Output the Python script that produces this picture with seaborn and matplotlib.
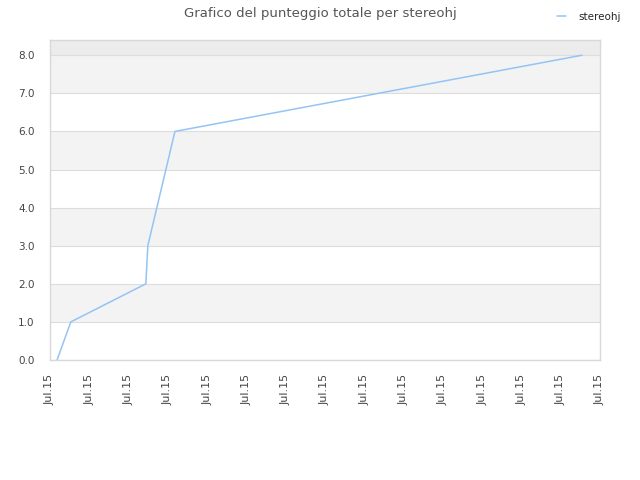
import matplotlib
matplotlib.use("Agg")
import matplotlib.pyplot as plt
import pandas as pd
import seaborn as sns

# data (x in tick units, 0..14)
x_pos = [0.18, 0.53, 2.44, 2.49, 3.18, 13.54]
punteggio = [0, 1, 2, 3, 6, 8]
tick_labels = ["Jul.15"] * 15

df = pd.DataFrame({"x": x_pos, "punteggio": punteggio})

sns.set_style("white")
plt.rcParams['font.family'] = ['DejaVu Sans']

fig = plt.figure(figsize=(6.4, 4.8), dpi=100)
ax = fig.add_axes([50/640, 120/480, 550/640, 320/480])

# alternating bands
for i in range(8):
    if i % 2 == 1:
        ax.axhspan(i, i + 1, color="#f3f3f3", zorder=0, lw=0)
ax.axhspan(8, 8.4, color="#ececec", zorder=0, lw=0)
for i in range(9):
    ax.axhline(i, color="#dddddd", lw=0.8, zorder=0.5)

sns.lineplot(data=df, x="x", y="punteggio", ax=ax, color="#94c4f4", lw=1.1,
             label="stereohj", zorder=2)

ax.set_xlim(0, 14)
ax.set_ylim(0, 8.4)
ax.set_xticks(range(15))
ax.set_xticklabels(tick_labels, rotation=90, fontsize=8, color="#444444")
ax.set_yticks(range(9))
ax.set_yticklabels([f"{v:.1f}" for v in range(9)], fontsize=7.5, color="#444444")
ax.tick_params(axis="x", length=0, pad=10)
ax.tick_params(axis="y", length=0, pad=11)
ax.set_xlabel("")
ax.set_ylabel("")
for s in ax.spines.values():
    s.set_color("#d8d8d8")
    s.set_linewidth(1)

fig.suptitle("Grafico del punteggio totale per stereohj", fontsize=9.5,
             color="#555555", x=0.5, y=0.985)
ax.legend(loc="upper right", bbox_to_anchor=(0.985, 0.995), bbox_transform=fig.transFigure,
          frameon=False, fontsize=7.5, handlelength=0.9, handletextpad=1.2)

fig.savefig("out.png", dpi=100)
